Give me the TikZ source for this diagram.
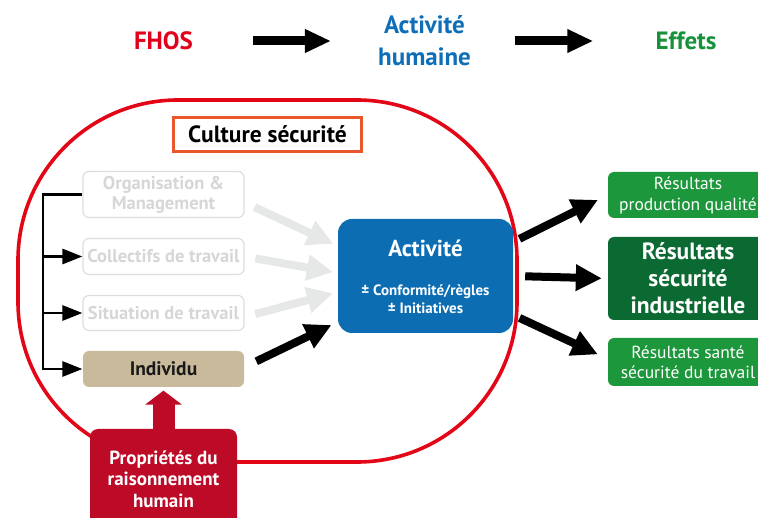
\documentclass[tikz,border=0pt]{standalone}
\usepackage{fontspec}
\setmainfont{PT Sans}
\usetikzlibrary{arrows.meta,calc}
\definecolor{fhosred}{HTML}{E3001B}
\definecolor{humblue}{HTML}{0E6FB8}
\definecolor{effgreen}{HTML}{17913A}
\definecolor{loopred}{HTML}{E30617}
\definecolor{cultorange}{HTML}{E9572B}
\definecolor{boxgray}{HTML}{DDDDDD}
\definecolor{txtgray}{HTML}{D6D6D6}
\definecolor{arrgray}{HTML}{E6E7E7}
\definecolor{indtan}{HTML}{C8BA9B}
\definecolor{actblue}{HTML}{0C6DB3}
\definecolor{resgreen}{HTML}{1C973B}
\definecolor{resdark}{HTML}{0B6A32}
\definecolor{propred}{HTML}{BD0B27}
\newcommand\fsz[2]{\fontsize{#1}{#2}\selectfont}

\begin{document}
\begin{tikzpicture}[x=1pt,y=-1pt,
		hdr/.style={font=\bfseries\fsz{25}{32}, align=center, inner sep=0pt},
		greybox/.style={draw=boxgray, line width=1.2pt, rounded corners=6pt, minimum width=161pt, inner sep=0pt, text=txtgray, font=\bfseries\fsz{18.5}{20}, align=center},
		resbox/.style={fill=resgreen, rounded corners=6pt, minimum width=160pt, inner sep=0pt, text=white, font=\fsz{17.5}{21}, align=center},
		bigarrow/.style={line width=9pt, -{Triangle[length=26pt,width=22pt]}},
		fatarrow/.style={line width=8pt, -{Triangle[length=26pt,width=25pt]}},
		brkline/.style={line width=2.8pt},
		brktip/.style={-{Triangle[length=20pt,width=15pt]}}]
		\useasboundingbox (0,0) rectangle (758,518);
		\clip (0,0) rectangle (758,518);
		\draw[loopred, line width=3.6pt, rounded corners=160pt] (18,100) rectangle (517,462);
		\node[hdr, text=fhosred] (fhos) at (163.5,41) {FHOS};
		\node[hdr, text=humblue] (hum) at (424.5,41) {Activité\\humaine};
		\node[hdr, text=effgreen] (eff) at (686,41) {Effets};
		\draw[bigarrow, shorten <=60pt, shorten >=47pt] (fhos) -- (hum);
		\draw[bigarrow, shorten <=44pt, shorten >=62pt] (hum) -- (eff);
		\node[draw=cultorange, line width=3pt, minimum width=188pt, minimum height=34pt, inner sep=0pt, font=\bfseries\fsz{23.5}{26}] (cult) at (267.5,134.5) {Culture sécurité};
		\node[greybox, minimum height=46pt] (org) at (163.5,194.5) {Organisation \&\\Management};
		\node[greybox, minimum height=36pt] (coll) at (163.5,256.5) {Collectifs de travail};
		\node[greybox, minimum height=35pt] (sit) at (163.5,313) {Situation de travail};
		\node[greybox, draw=none, fill=indtan, text=black!90, minimum height=36pt, font=\bfseries\fsz{19.5}{20}] (ind) at (163.5,369) {Individu};
		\coordinate (brk) at (43,194.5);
		\draw[brkline, brktip] (org.west) -- (brk) |- (ind.west);
		\draw[brkline, brktip] (brk |- coll.west) -- (coll.west);
		\draw[brkline, brktip] (brk |- sit.west) -- (sit.west);
		\node[fill=actblue, rounded corners=14pt, minimum width=175pt, minimum height=114pt] (act) at (425.5,276) {};
		\node[text=white, font=\bfseries\fsz{23}{26}] (acttitle) at ($(act.center)+(0,-28)$) {Activité};
		\node[text=white, font=\bfseries\fsz{15}{18.5}, align=center] (actrules) at ($(act.center)+(0,23)$) {± Conformité/règles\\± Initiatives};
		\draw[fatarrow, arrgray, shorten <=11pt, shorten >=5pt] ($(org.east)+(0,8)$) -- ($(act.west)+(0,-30)$);
		\draw[fatarrow, arrgray, shorten <=11pt, shorten >=5pt] (coll.east) -- ($(act.west)+(0,-3)$);
		\draw[fatarrow, arrgray, shorten <=11pt, shorten >=5pt] ($(sit.east)+(0,4)$) -- ($(act.west)+(0,16)$);
		\draw[fatarrow, shorten <=13pt, shorten >=7pt] ($(ind.east)+(0,-2)$) -- ($(act.west)+(0,46)$);
		\node[resbox, minimum height=46pt] (qual) at (688,195) {Résultats\\production qualité};
		\node[resbox, fill=resdark, minimum height=83pt, font=\bfseries\fsz{23.5}{27}] (secu) at (688,278.5) {Résultats\\sécurité\\industrielle};
		\node[resbox, minimum height=48pt, font=\fsz{17.5}{20}] (sante) at (688,362) {Résultats santé\\sécurité du travail};
		\draw[fatarrow, shorten <=7pt, shorten >=11pt] ($(act.east)+(0,-34)$) -- (qual.west);
		\draw[fatarrow, shorten <=12pt, shorten >=6pt] (act.east) -- (secu.west);
		\draw[fatarrow, shorten <=7pt, shorten >=11pt] ($(act.east)+(0,39)$) -- ($(sante.west)+(0,-3)$);
		\node[fill=propred, rounded corners=8pt, minimum width=147pt, minimum height=100pt, inner sep=0pt, text=white, font=\bfseries\fsz{19}{21.5}, align=center] (prop) at (163.5,479) {Propriétés du\\raisonnement\\humain};
		\draw[propred, line width=22pt, -{Triangle[length=14pt,width=36pt]}, shorten >=3pt] (prop.north) -- (ind.south);
	\end{tikzpicture}
\end{document}
